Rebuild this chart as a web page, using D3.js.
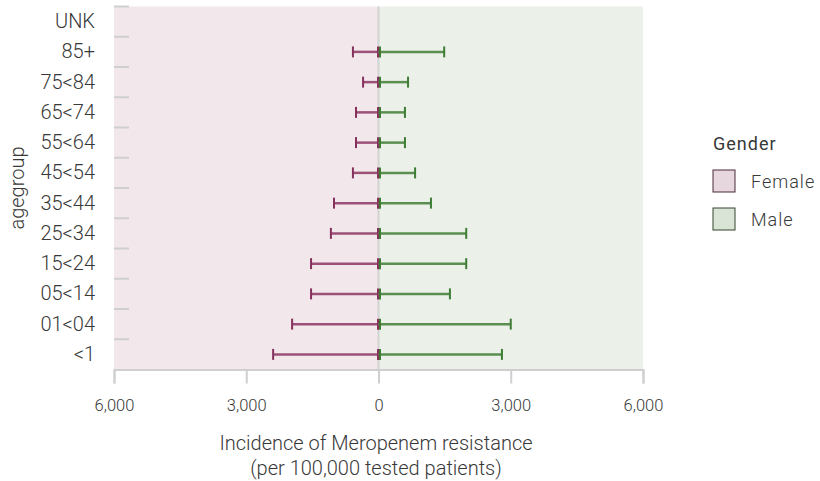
<!DOCTYPE html>
<html><head><meta charset="utf-8">
<script src="https://cdn.jsdelivr.net/npm/d3@7"></script>
<style>
body{margin:0;background:#fff;}
text{font-family:Roboto, "DejaVu Sans", sans-serif;fill:#383838;font-weight:300;}
</style></head>
<body><svg id="c" width="820" height="481"></svg>
<script>
const ageGroups = ["UNK","85+","75<84","65<74","55<64","45<54","35<44","25<34","15<24","05<14","01<04","<1"];
const femaleValues = [null,580,350,510,510,580,1010,1080,1530,1530,1960,2390];
const maleValues   = [null,1490,670,600,600,830,1190,1990,1990,1620,3000,2800];
const xTicks = [-6000,-3000,0,3000,6000];
const genders = ["Female","Male"];

const svg = d3.select("#c");
const L=114, R=643, T=6.5, B=369.5;
const x = d3.scaleLinear().domain([-6000,6000]).range([L,R]);
const y = d3.scaleBand().domain(ageGroups).range([T,B]);
const fColor="#86305c", mColor="#3d7d34";
const fLine="#9c5078", mLine="#5a8f50";

svg.append("rect").attr("x",x(-6000)).attr("y",T).attr("width",x(0)-x(-6000)).attr("height",B-T).attr("fill","#f2e8ec");
svg.append("rect").attr("x",x(0)).attr("y",T).attr("width",x(6000)-x(0)).attr("height",B-T).attr("fill","#ebf0e9");

svg.append("line").attr("x1",x(0)).attr("x2",x(0)).attr("y1",T).attr("y2",B).attr("stroke","#d2d2d2").attr("stroke-width",2);

const bounds = ageGroups.map(a=>y(a));
svg.selectAll(".stub").data(bounds).enter().append("line")
  .attr("x1",L).attr("x2",L+15).attr("y1",d=>d).attr("y2",d=>d)
  .attr("stroke","#cfcfcf").attr("stroke-width",2);

const xAxis = d3.axisBottom(x).tickValues(xTicks).tickSize(14).tickPadding(16)
  .tickFormat(d=>d3.format(",")(Math.abs(d)));
const gx = svg.append("g").attr("transform",`translate(0,${B})`).call(xAxis);
gx.attr("font-family",null).attr("font-size",null);
gx.select(".domain").attr("stroke","#cfcfcf").attr("stroke-width",2);
gx.selectAll(".tick line").attr("stroke","#cfcfcf").attr("stroke-width",2);
gx.selectAll(".tick text").style("font-size","16.5px").attr("fill","#383838");

const yAxis = d3.axisLeft(y).tickSize(0).tickPadding(19);
const gy = svg.append("g").attr("transform",`translate(${L},0)`).call(yAxis);
gy.attr("font-family",null).attr("font-size",null);
gy.select(".domain").remove();
gy.selectAll(".tick text").style("font-size","20px").attr("fill","#383838");

function bars(vals, sign, lineC, capC, off){
  const data = ageGroups.map((a,i)=>({a, v:vals[i]})).filter(d=>d.v!=null);
  const g = svg.append("g");
  const cy = d=>y(d.a)+y.bandwidth()/2;
  g.selectAll(".h").data(data).enter().append("line")
    .attr("x1",x(0)).attr("x2",d=>x(sign*d.v))
    .attr("y1",cy).attr("y2",cy)
    .attr("stroke",lineC).attr("stroke-width",2.5);
  g.selectAll(".c1").data(data).enter().append("line")
    .attr("x1",d=>x(sign*d.v)).attr("x2",d=>x(sign*d.v))
    .attr("y1",d=>cy(d)-5.5).attr("y2",d=>cy(d)+5.5)
    .attr("stroke",capC).attr("stroke-width",2);
  g.selectAll(".c0").data(data).enter().append("line")
    .attr("x1",x(0)+off).attr("x2",x(0)+off)
    .attr("y1",d=>cy(d)-5.5).attr("y2",d=>cy(d)+5.5)
    .attr("stroke",capC).attr("stroke-width",2);
}
bars(femaleValues,-1,fLine,fColor,-0.5);
bars(maleValues,1,mLine,mColor,1.5);

svg.append("text").attr("x",376).attr("y",450).attr("text-anchor","middle").style("font-size","20px").text("Incidence of Meropenem resistance");
svg.append("text").attr("x",376).attr("y",475).attr("text-anchor","middle").style("font-size","20px").text("(per 100,000 tested patients)");
svg.append("text").attr("transform",`translate(24,${(T+B)/2}) rotate(-90)`).attr("text-anchor","middle").style("font-size","20px").text("agegroup");

const lg = svg.append("g").attr("transform","translate(712,0)");
lg.append("text").attr("x",1).attr("y",150).style("font-size","18px").style("letter-spacing","1px").style("font-weight","400").attr("fill","#222").text("Gender");
const lfill = ["#e6d6dd","#d9e4d6"];
const lstroke = ["#4a2a38","#34452f"];
genders.forEach((g,i)=>{
  lg.append("rect").attr("x",1).attr("y",170+i*38).attr("width",22).attr("height",22)
    .attr("fill",lfill[i]).attr("stroke",lstroke[i]).attr("stroke-width",1);
  lg.append("text").attr("x",39).attr("y",187.5+i*38.5).style("font-size","18px").style("letter-spacing","1px").text(g);
});
</script></body></html>
